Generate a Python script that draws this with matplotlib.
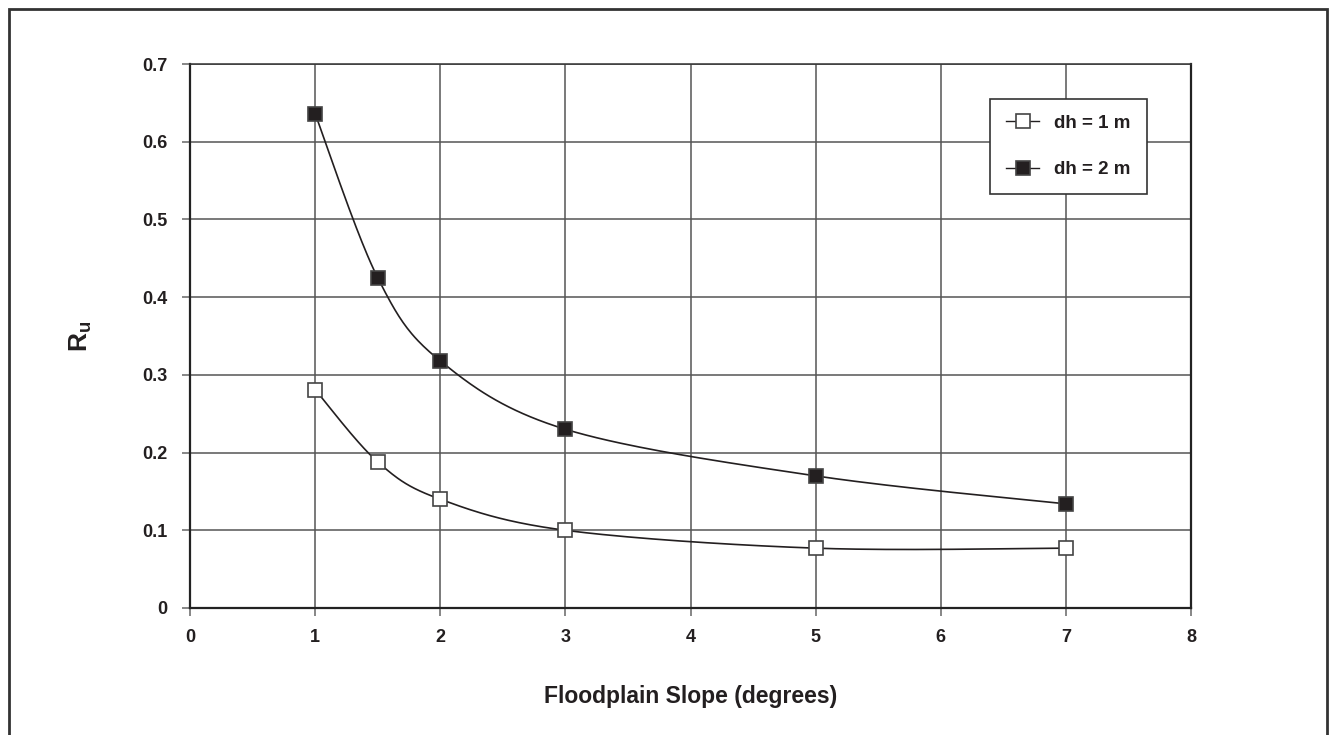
import numpy as np
import matplotlib
matplotlib.use("Agg")
import matplotlib.pyplot as plt
from matplotlib.lines import Line2D
from matplotlib.patches import Rectangle

# 数据
slope = [1, 1.5, 2, 3, 5, 7]
ru_dh1 = [0.281, 0.188, 0.140, 0.100, 0.077, 0.077]
ru_dh2 = [0.636, 0.425, 0.318, 0.230, 0.170, 0.134]
labels = ["dh = 1 m", "dh = 2 m"]

plt.rcParams["font.family"] = ["Liberation Sans", "DejaVu Sans"]
plt.rcParams["font.weight"] = "bold"
plt.rcParams["mathtext.fontset"] = "custom"
plt.rcParams["mathtext.rm"] = "Liberation Sans:bold"
plt.rcParams["mathtext.it"] = "Liberation Sans:bold"
plt.rcParams["mathtext.bf"] = "Liberation Sans:bold"


def smooth(x, y, n=40):
    # Excel 风格平滑曲线 (Catmull-Rom -> Bezier)
    x = np.asarray(x, float)
    y = np.asarray(y, float)
    px = np.concatenate([[x[0]], x, [x[-1]]])
    py = np.concatenate([[y[0]], y, [y[-1]]])
    xs, ys = [], []
    t = np.linspace(0, 1, n)
    for i in range(1, len(px) - 2):
        p0 = np.array([px[i], py[i]])
        p3 = np.array([px[i + 1], py[i + 1]])
        p1 = p0 + (np.array([px[i + 1], py[i + 1]]) - np.array([px[i - 1], py[i - 1]])) / 6
        p2 = p3 - (np.array([px[i + 2], py[i + 2]]) - np.array([px[i], py[i]])) / 6
        b = ((1 - t) ** 3)[:, None] * p0 + (3 * (1 - t) ** 2 * t)[:, None] * p1 \
            + (3 * (1 - t) * t ** 2)[:, None] * p2 + (t ** 3)[:, None] * p3
        xs.extend(b[:, 0])
        ys.extend(b[:, 1])
    return np.array(xs), np.array(ys)


fig = plt.figure(figsize=(13.29, 7.35), dpi=100)
ax = fig.add_axes([190 / 1329, 1 - 608 / 735, 1001 / 1329, 544 / 735])

# 外框
fig.patches.append(Rectangle((9 / 1329, -0.02), 1318 / 1329, 1.02 - 9 / 735,
                             transform=fig.transFigure, fill=False,
                             edgecolor="#333333", linewidth=2))

line_c = "#231f20"
msize = 9.5
for ys, face in [(ru_dh1, "white"), (ru_dh2, line_c)]:
    sx, sy = smooth(slope, ys)
    ax.plot(sx, sy, color=line_c, linewidth=1.2, zorder=3)
    ax.plot(slope, ys, linestyle="none", marker="s", markersize=msize,
            markerfacecolor=face, markeredgecolor="#444444",
            markeredgewidth=1.2, zorder=4)

ax.set_xlim(0, 8)
ax.set_ylim(0, 0.7)
ax.set_xticks(range(0, 9))
ax.set_yticks([0, 0.1, 0.2, 0.3, 0.4, 0.5, 0.6, 0.7])
ax.set_yticklabels(["0", "0.1", "0.2", "0.3", "0.4", "0.5", "0.6", "0.7"])
ax.grid(True, color="#555555", linewidth=1.1)
ax.set_axisbelow(True)
for s in ["left", "bottom", "right"]:
    ax.spines[s].set_linewidth(1.6)
    ax.spines[s].set_color("#222222")
ax.spines["top"].set_linewidth(1.1)
ax.spines["top"].set_color("#333333")
ax.tick_params(direction="out", length=6, width=1.1, color="#666666",
               labelsize=13, labelcolor="#231f20")
ax.tick_params(axis="x", pad=9)
ax.tick_params(axis="y", pad=10)

ax.set_xlabel("Floodplain Slope (degrees)", fontsize=16.5, fontweight="bold",
              color="#231f20", labelpad=28)
ax.set_ylabel(r"$R_u$", fontsize=19, color="#231f20", labelpad=35)

handles = [
    Line2D([], [], color=line_c, linewidth=1.0, marker="s", markersize=msize,
           markerfacecolor="white", markeredgecolor="#444444", markeredgewidth=1.2),
    Line2D([], [], color=line_c, linewidth=1.0, marker="s", markersize=msize,
           markerfacecolor=line_c, markeredgecolor="#444444", markeredgewidth=1.2),
]
leg = ax.legend(handles, labels, loc="upper left", bbox_to_anchor=(0.799, 0.936),
                fancybox=False, framealpha=1, edgecolor="#333333",
                fontsize=13.5, handlelength=1.8, labelspacing=1.55,
                borderpad=0.85, handletextpad=0.8, borderaxespad=0)
leg.get_frame().set_linewidth(1.2)
for t in leg.get_texts():
    t.set_color("#231f20")

fig.savefig("out.png", dpi=100)
